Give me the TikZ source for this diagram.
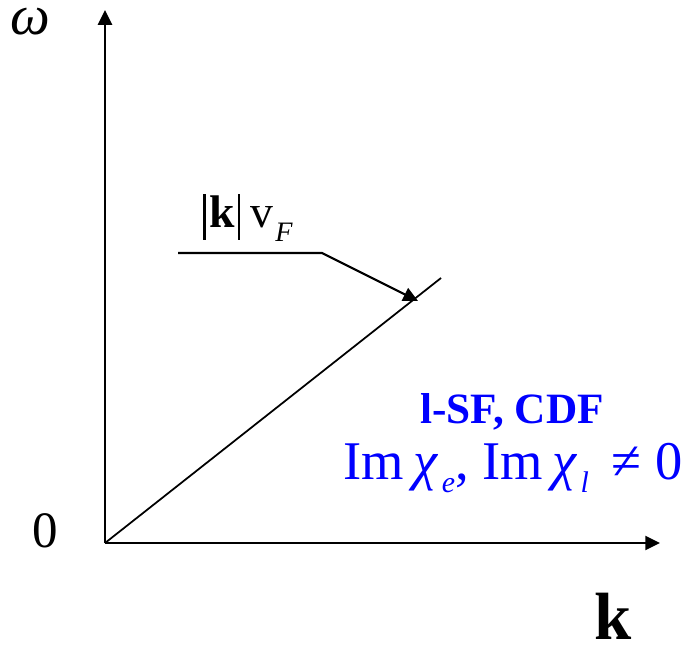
\documentclass[tikz,border=0pt]{standalone}
\usepackage{fontspec}
\setmainfont{Liberation Serif}
\usetikzlibrary{positioning, arrows.meta}

\newcommand{\vbar}{\rule[-3.6pt]{0.6pt}{13pt}}

\begin{document}
\begin{tikzpicture}[
    x=0.01cm, y=-0.01cm,
    axis/.style={-{Triangle[length=4.2pt, width=4pt]}, line width=0.6pt},
    line/.style={line width=0.5pt},
    label/.style={inner sep=0pt, font=\fontsize{15}{16}\selectfont},
    blue text/.style={text=blue, inner sep=0pt}
]

\useasboundingbox (0,0) rectangle (683,645);

\coordinate (o) at (105,543);
\coordinate (ytop) at (105,10);
\coordinate (xend) at (660,543);
\coordinate (diag) at (441,278);
\coordinate (lead) at (178,253);
\coordinate (bend) at (322,253);
\coordinate (tip) at (418,301);

\draw[axis] (o) -- (ytop);
\draw[axis] (o) -- (xend);
\draw[line] (o) -- (diag);
\draw[axis] (lead) -- (bend) -- (tip);

\node[label, font=\fontsize{16}{17}\selectfont\itshape, text height=7pt, text depth=0pt] (omega) at (30,22) {ω};
\node[label, font=\fontsize{14.5}{16}\selectfont] (zero) at (45,531) {0};
\node[label, font=\fontsize{19}{20}\selectfont\bfseries, text height=13pt, text depth=0pt] (kax) at (613,617) {k};
\node[label, font=\fontsize{13}{14}\selectfont] (vel) at (248,218)
    {\vbar\hspace{1pt}{\bfseries k}\hspace{1pt}\vbar\hspace{3pt}v\raisebox{-0.7ex}{\hspace{0.5pt}\fontsize{8}{9}\selectfont\itshape F}};

\node[blue text, font=\fontsize{12.3}{13}\selectfont\bfseries] (phase) at (512,412) {l-SF, CDF};
\node[blue text, font=\fontsize{15.5}{17}\selectfont] (imchi) at (513,468)
    {Im\,\textit{χ}\raisebox{-0.55ex}{\hspace{1pt}\fontsize{8.5}{10}\selectfont\itshape e}, Im\,\textit{χ}\raisebox{-0.55ex}{\hspace{1pt}\fontsize{8.5}{10}\selectfont\itshape l}\, ≠ 0};

\end{tikzpicture}
\end{document}
